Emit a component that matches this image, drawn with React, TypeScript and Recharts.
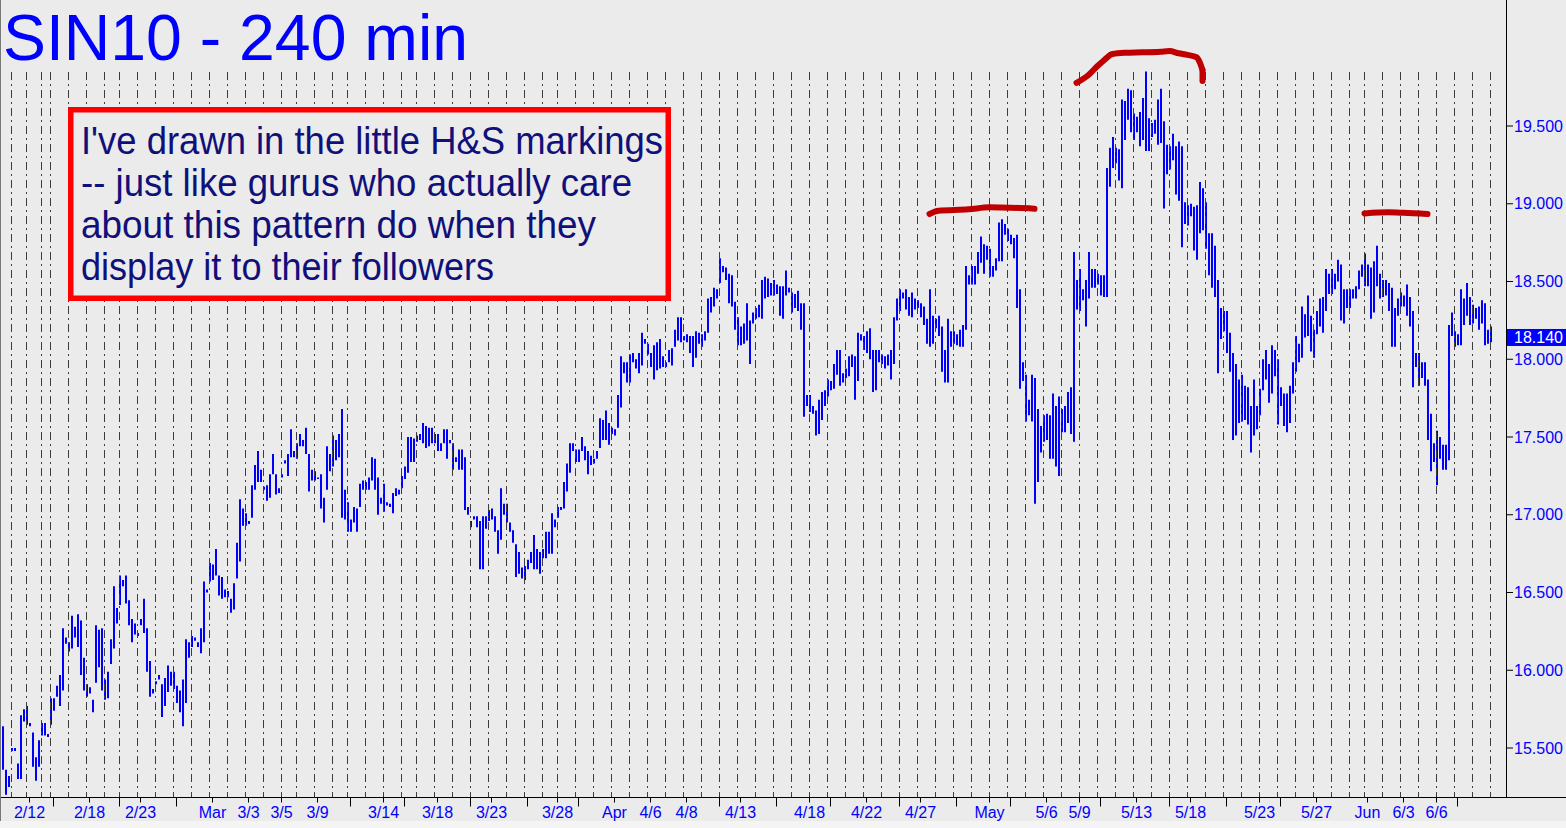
import React from 'react';
import { ComposedChart, Bar, Line, XAxis, YAxis, ReferenceLine } from 'recharts';

// ---- data (240-min bars) ----
const highs: number[] = [
  15.64,15.36,15.32,15.50,15.50,15.40,15.71,15.75,15.77,15.66,
  15.60,15.44,15.55,15.66,15.66,15.59,15.82,15.82,15.90,15.97,
  16.27,16.21,16.18,16.35,16.28,16.36,16.32,16.08,15.91,15.89,
  15.81,16.29,16.26,16.27,15.94,15.99,16.20,16.54,16.40,16.61,
  16.58,16.61,16.45,16.33,16.30,16.24,16.33,16.46,16.27,16.06,
  15.88,15.93,15.97,15.91,15.95,16.03,15.99,15.99,15.90,15.87,
  15.94,16.20,16.18,16.22,16.21,16.18,16.27,16.57,16.52,16.69,
  16.68,16.78,16.61,16.60,16.52,16.51,16.46,16.56,16.82,17.10,
  17.04,17.01,16.96,17.19,17.32,17.41,17.29,17.18,17.19,17.26,
  17.39,17.26,17.17,17.26,17.35,17.39,17.55,17.41,17.46,17.52,
  17.48,17.56,17.39,17.29,17.28,17.24,17.26,17.11,17.44,17.39,
  17.51,17.48,17.52,17.68,17.16,17.08,16.97,17.05,17.04,17.20,
  17.22,17.21,17.24,17.37,17.36,17.24,17.11,17.20,17.08,17.07,
  17.14,17.17,17.16,17.25,17.31,17.50,17.50,17.49,17.51,17.52,
  17.59,17.57,17.56,17.56,17.52,17.52,17.46,17.55,17.55,17.48,
  17.46,17.37,17.42,17.42,17.37,17.05,16.96,16.99,16.99,16.96,
  16.99,16.99,17.03,17.04,16.99,16.90,17.17,17.07,17.07,16.95,
  16.90,16.81,16.76,16.66,16.67,16.71,16.76,16.87,16.78,16.76,
  16.78,16.89,16.89,17.01,16.97,17.05,17.05,17.21,17.33,17.46,
  17.46,17.42,17.42,17.50,17.44,17.41,17.38,17.36,17.41,17.62,
  17.61,17.67,17.59,17.56,17.55,17.77,18.02,17.98,17.98,18.03,
  18.04,18.00,18.04,18.17,18.13,18.10,18.04,18.09,18.11,18.13,
  18.02,17.98,18.06,18.07,18.19,18.27,18.27,18.15,18.16,18.15,
  18.15,18.18,18.17,18.16,18.18,18.39,18.40,18.46,18.45,18.65,
  18.60,18.59,18.55,18.54,18.37,18.27,18.21,18.23,18.36,18.25,
  18.30,18.33,18.35,18.51,18.53,18.52,18.49,18.51,18.48,18.47,
  18.47,18.57,18.46,18.43,18.42,18.44,18.36,18.36,17.77,17.77,
  17.70,17.67,17.74,17.79,17.80,17.87,17.86,17.97,18.06,18.06,
  17.91,17.94,18.02,18.03,18.02,18.17,18.16,18.15,18.18,18.20,
  18.06,18.06,18.06,18.03,18.02,18.03,18.06,18.27,18.39,18.45,
  18.43,18.45,18.40,18.43,18.39,18.38,18.36,18.34,18.26,18.45,
  18.28,18.26,18.28,18.21,18.06,18.26,18.18,18.18,18.16,18.19,
  18.22,18.60,18.54,18.60,18.60,18.69,18.79,18.74,18.73,18.71,
  18.60,18.65,18.88,18.90,18.87,18.84,18.80,18.78,18.80,18.45,
  17.98,17.90,17.74,17.90,17.88,17.68,17.57,17.64,17.65,17.64,
  17.78,17.70,17.76,17.68,17.70,17.79,17.82,18.69,18.51,18.58,
  18.45,18.51,18.69,18.58,18.58,18.55,18.54,18.54,19.23,19.36,
  19.43,19.36,19.35,19.67,19.66,19.74,19.73,19.58,19.56,19.59,
  19.68,19.85,19.55,19.52,19.54,19.67,19.74,19.53,19.38,19.37,
  19.45,19.37,19.40,19.37,19.01,18.99,19.00,18.98,18.99,19.14,
  19.10,19.01,18.81,18.81,18.73,18.51,18.33,18.31,18.31,18.17,
  18.04,17.97,17.87,17.90,17.83,17.82,17.70,17.87,17.70,17.81,
  18.00,18.06,17.97,18.09,18.06,18.00,17.82,17.78,17.78,17.83,
  17.98,18.15,18.10,18.34,18.29,18.41,18.28,18.19,18.31,18.39,
  18.40,18.58,18.55,18.58,18.55,18.64,18.61,18.45,18.45,18.45,
  18.45,18.47,18.57,18.61,18.68,18.61,18.59,18.63,18.73,18.55,
  18.51,18.51,18.49,18.46,18.33,18.39,18.43,18.41,18.48,18.40,
  18.31,18.04,18.04,17.98,17.98,17.87,17.65,17.46,17.54,17.50,
  17.45,17.45,18.22,18.30,18.18,18.16,18.45,18.39,18.49,18.40,
  18.35,18.33,18.34,18.38,18.36,18.19,18.21,
];

const lows: number[] = [
  15.36,15.20,15.25,15.48,15.48,15.30,15.30,15.67,15.65,15.64,
  15.38,15.29,15.38,15.58,15.58,15.57,15.65,15.74,15.83,15.77,
  15.87,16.17,16.12,16.14,16.21,16.15,15.97,15.87,15.83,15.85,
  15.73,15.92,16.02,15.87,15.81,15.82,16.04,16.14,16.30,16.42,
  16.54,16.43,16.29,16.18,16.23,16.22,16.29,16.24,15.99,15.83,
  15.85,15.91,15.94,15.70,15.77,15.86,15.90,15.88,15.79,15.73,
  15.64,15.79,16.08,16.15,16.19,16.15,16.11,16.18,16.50,16.57,
  16.58,16.61,16.48,16.46,16.47,16.47,16.37,16.39,16.59,16.70,
  16.93,16.93,16.94,16.98,17.16,17.21,17.21,17.16,17.09,17.11,
  17.26,17.13,17.14,17.24,17.33,17.25,17.37,17.37,17.36,17.44,
  17.44,17.39,17.15,17.22,17.22,17.23,17.04,16.95,17.16,17.28,
  17.31,17.35,17.37,16.98,16.97,16.89,16.89,16.95,16.89,17.05,
  17.16,17.16,17.16,17.22,17.16,17.00,17.07,17.02,17.06,17.05,
  17.01,17.12,17.13,17.17,17.23,17.27,17.34,17.34,17.47,17.48,
  17.46,17.43,17.44,17.46,17.46,17.41,17.41,17.46,17.36,17.46,
  17.29,17.34,17.29,17.29,17.03,17.00,16.92,16.97,16.92,16.65,
  16.65,16.91,16.96,16.97,16.89,16.75,16.84,17.00,16.95,16.89,
  16.82,16.60,16.62,16.59,16.58,16.65,16.69,16.65,16.65,16.62,
  16.72,16.72,16.75,16.75,16.92,16.98,17.03,17.04,17.15,17.27,
  17.41,17.34,17.34,17.41,17.35,17.26,17.32,17.33,17.36,17.43,
  17.48,17.48,17.45,17.52,17.51,17.56,17.69,17.91,17.85,17.85,
  17.98,17.94,17.91,17.96,18.10,18.03,17.95,17.87,17.93,17.94,
  17.95,17.95,17.98,17.96,18.08,18.12,18.11,18.12,18.11,18.04,
  17.95,18.01,18.10,18.08,18.12,18.17,18.30,18.34,18.39,18.49,
  18.56,18.51,18.36,18.34,18.19,18.09,18.09,18.10,18.12,17.97,
  18.23,18.26,18.27,18.26,18.39,18.40,18.41,18.41,18.42,18.28,
  18.26,18.41,18.43,18.30,18.33,18.31,18.19,17.63,17.70,17.66,
  17.65,17.51,17.52,17.61,17.70,17.76,17.80,17.81,17.90,17.83,
  17.85,17.88,17.89,17.95,17.74,17.86,18.12,18.06,18.04,18.00,
  17.79,17.80,17.98,17.97,17.94,17.96,17.87,17.97,18.25,18.31,
  18.39,18.32,18.28,18.27,18.32,18.33,18.27,18.22,18.10,18.08,
  18.10,18.20,18.15,17.92,17.85,17.85,18.08,18.10,18.09,18.08,
  18.08,18.19,18.48,18.48,18.48,18.55,18.62,18.55,18.64,18.53,
  18.53,18.57,18.63,18.63,18.80,18.76,18.74,18.65,18.33,17.81,
  17.86,17.60,17.64,17.60,17.07,17.21,17.40,17.47,17.48,17.36,
  17.36,17.31,17.25,17.53,17.53,17.59,17.52,17.47,18.32,18.31,
  18.38,18.21,18.39,18.46,18.46,18.48,18.41,18.40,18.40,19.11,
  19.23,19.26,19.15,19.10,19.41,19.54,19.46,19.41,19.46,19.37,
  19.41,19.34,19.34,19.43,19.45,19.38,19.39,18.97,19.19,19.22,
  19.28,19.06,19.02,18.72,18.87,18.86,18.92,18.70,18.64,18.81,
  18.83,18.71,18.54,18.46,18.40,17.91,18.13,18.18,18.04,17.92,
  17.48,17.51,17.59,17.60,17.61,17.58,17.40,17.51,17.55,17.64,
  17.80,17.87,17.72,17.78,17.89,17.58,17.70,17.57,17.53,17.59,
  17.78,17.92,17.98,18.01,18.14,18.15,18.05,18.01,18.16,18.21,
  18.17,18.31,18.42,18.42,18.45,18.50,18.25,18.23,18.33,18.33,
  18.39,18.39,18.45,18.53,18.47,18.47,18.26,18.30,18.47,18.39,
  18.40,18.41,18.31,18.08,18.08,18.28,18.34,18.34,18.28,18.21,
  17.82,17.95,17.83,17.88,17.83,17.48,17.28,17.34,17.19,17.36,
  17.29,17.29,17.35,18.15,18.08,18.09,18.09,18.22,18.28,18.22,
  18.23,18.26,18.19,18.23,18.09,18.10,18.11,
];

// bar index where each trading day starts (dashed separators)
const dayLines: number[] = [
  3, 8, 13, 16, 22, 28, 34, 39, 45, 51, 57, 63, 69, 75, 81, 87, 93, 98, 104, 110,
  115, 121, 127, 133, 138, 144, 150, 156, 162, 168, 174, 180, 185, 191, 197, 203, 209, 215, 221, 227,
  233, 239, 245, 251, 257, 263, 269, 275, 281, 287, 293, 299, 305, 311, 317, 323, 329, 335, 341, 347,
  353, 359, 365, 371, 377, 383, 389, 395, 401, 407, 413, 419, 425, 431, 437, 443, 449, 454, 460, 466,
  472, 478, 484, 490, 496,
];

// x-axis ticks (bar index) and their labels ('' = unlabeled week tick)
const tickIdx: number[] = [
  9, 17, 29, 39, 46, 58, 70, 82, 93, 105, 116, 127, 134, 145, 156, 163, 175, 185, 192, 204,
  216, 228, 239, 246, 258, 269, 276, 288, 299, 306, 318, 329, 336, 348, 359, 366, 378, 389, 396, 408,
  419, 426, 438, 455, 467, 478, 485,
];
const tickLabels: string[] = [
  '2/12', '', '2/18', '', '2/23', '', 'Mar', '3/3', '3/5', '3/9', '', '3/14', '', '3/18', '', '3/23', '', '3/28', '', 'Apr',
  '4/6', '4/8', '', '4/13', '', '4/18', '', '4/22', '', '4/27', '', 'May', '', '5/6', '5/9', '', '5/13', '', '5/18', '',
  '5/23', '', '5/27', 'Jun', '6/3', '6/6', '',
];

const yTicks: number[] = [15.5, 16, 16.5, 17, 17.5, 18, 18.5, 19, 19.5];
const lastPrice = 18.14;

// hand-drawn head & shoulders marks (bar index, price)
const hsLeft: [number, number][] = [[309, 18.934], [312, 18.955], [322, 18.964], [329, 18.977], [336, 18.975], [344, 18.968]];
const hsHead: [number, number][] = [
  [358, 19.778], [362, 19.828], [365, 19.886], [367, 19.92], [370, 19.963], [374, 19.971], [380, 19.974],
  [386, 19.978], [389, 19.982], [392, 19.968], [395, 19.957], [398, 19.942], [399, 19.913], [400, 19.86],
];
const hsHook: [number, number, number] = [400, 19.86, 19.79];
const hsRight: [number, number][] = [[454, 18.938], [462, 18.945], [467, 18.942], [475, 18.934]];

const titleText = 'SIN10 - 240 min';
const noteLines: string[] = [
  "I've drawn in the little H&S markings",
  '-- just like gurus who actually care',
  'about this pattern do when they',
  'display it to their followers',
];

// ---- chart constants ----
const W = 1566;
const H = 828;
const Y_MIN = 15.1817;
const Y_MAX = 20.3103;
const GRID_TOP = 19.847;
const EMPTY_SLOTS = 5;
const FONT = '"Liberation Sans", Arial, "Noto Sans", sans-serif';
const BLUE = '#0000ff';
const BG = '#ebebeb';
const RED_MARK = '#c00000';

const data: any[] = Array.from({ length: highs.length + EMPTY_SLOTS }, (_, i) => ({
  i,
  range: i < highs.length ? [lows[i], highs[i]] : null,
}));
hsLeft.forEach(([i, v]) => { data[i].hsL = v; });
hsHead.forEach(([i, v]) => { data[i].hsH = v; });
hsRight.forEach(([i, v]) => { data[i].hsR = v; });

const XTick = (props: any) => {
  const { x, y, payload } = props;
  const k = tickIdx.indexOf(payload.value);
  const label = k >= 0 ? tickLabels[k] : '';
  return (
    <g>
      <line x1={x} x2={x} y1={y} y2={y + (label ? 5 : 9)} stroke="#000" strokeWidth={1} />
      {label ? (
        <text x={x} y={y + 20.5} textAnchor="middle" fill={BLUE} fontSize={16} fontFamily={FONT}>
          {label}
        </text>
      ) : null}
    </g>
  );
};

const DashLine = (p: any) => (
  <line x1={p.x1} y1={p.y1} x2={p.x2} y2={p.y2} stroke="#3c3c3c" strokeWidth={1} strokeDasharray="8 4 2 4" />
);

const HookLine = (p: any) => (
  <line x1={p.x1} y1={p.y1} x2={p.x2} y2={p.y2} stroke={RED_MARK} strokeWidth={6} strokeLinecap="round" />
);

const PriceTag = (props: any) => {
  const vb = props.viewBox || {};
  const x = (vb.x || 0) + (vb.width || 0);
  const y = vb.y || 0;
  return (
    <g>
      <rect x={x} y={y - 8.5} width={W - x} height={17} fill={BLUE} />
      <text x={x + 7} y={y + 6} fill="#ffffff" fontSize={16} fontFamily={FONT}>
        {lastPrice.toFixed(3)}
      </text>
    </g>
  );
};

export default function App() {
  return (
    <div style={{ position: 'absolute', left: 0, top: 0, width: W, height: H, background: BG, overflow: 'hidden' }}>
      <ComposedChart
        width={W}
        height={H}
        data={data}
        margin={{ top: 0, right: 0, bottom: 0, left: 1 }}
        barCategoryGap={0}
      >
        <XAxis
          dataKey="i"
          type="category"
          ticks={tickIdx}
          interval={0}
          tick={<XTick />}
          tickLine={false}
          tickSize={0}
          tickMargin={0}
          axisLine={{ stroke: '#000' }}
          height={30.5}
        />
        <YAxis
          orientation="right"
          width={59}
          domain={[Y_MIN, Y_MAX]}
          ticks={yTicks}
          allowDataOverflow
          tickFormatter={(v: number) => v.toFixed(3)}
          tick={{ fill: BLUE, fontSize: 16, fontFamily: FONT }}
          tickLine={{ stroke: '#000' }}
          tickSize={6}
          tickMargin={1}
          axisLine={false}
        />
        {dayLines.map((d) => (
          <ReferenceLine
            key={'g' + d}
            segment={[{ x: d, y: GRID_TOP }, { x: d, y: Y_MIN }]}
            shape={DashLine}
            ifOverflow="visible"
          />
        ))}
        <Bar dataKey="range" fill={BLUE} barSize={2} isAnimationActive={false} />
        <Line dataKey="hsL" stroke={RED_MARK} strokeWidth={6} strokeLinecap="round" strokeLinejoin="round" type="monotone" connectNulls dot={false} activeDot={false} isAnimationActive={false} />
        <Line dataKey="hsH" stroke={RED_MARK} strokeWidth={6} strokeLinecap="round" strokeLinejoin="round" type="monotone" connectNulls dot={false} activeDot={false} isAnimationActive={false} />
        <Line dataKey="hsR" stroke={RED_MARK} strokeWidth={6} strokeLinecap="round" strokeLinejoin="round" type="monotone" connectNulls dot={false} activeDot={false} isAnimationActive={false} />
        <ReferenceLine
          segment={[{ x: hsHook[0], y: hsHook[1] }, { x: hsHook[0], y: hsHook[2] }]}
          shape={HookLine}
          ifOverflow="visible"
        />
        <ReferenceLine y={lastPrice} stroke="none" label={PriceTag} ifOverflow="visible" />
      </ComposedChart>
      <svg
        width={W}
        height={H}
        style={{ position: 'absolute', left: 0, top: 0, pointerEvents: 'none' }}
      >
        <rect x={0} y={0} width={1} height={821} fill="#777" />
        <line x1={1506.5} y1={0} x2={1506.5} y2={797.5} stroke="#000" strokeWidth={1} />
        <line x1={1506} y1={797.5} x2={W} y2={797.5} stroke="#000" strokeWidth={1} />
        <rect x={0} y={821} width={W} height={7} fill="#f4f4f4" />
        <text
          x={3}
          y={59.5}
          fontSize={65}
          fill={BLUE}
          fontFamily={FONT}
          textLength={465}
          lengthAdjust="spacingAndGlyphs"
        >
          {titleText}
        </text>
        <rect x={70.75} y={109.75} width={597.5} height={188.5} fill={BG} stroke="#ff0000" strokeWidth={5.5} />
        {noteLines.map((t, k) => (
          <text
            key={k}
            x={81}
            y={154 + k * 42}
            fontSize={38}
            fill="#10107a"
            fontFamily={FONT}
            textLength={[582, 551, 515, 413][k]}
            lengthAdjust="spacingAndGlyphs"
          >
            {t}
          </text>
        ))}
      </svg>
    </div>
  );
}
